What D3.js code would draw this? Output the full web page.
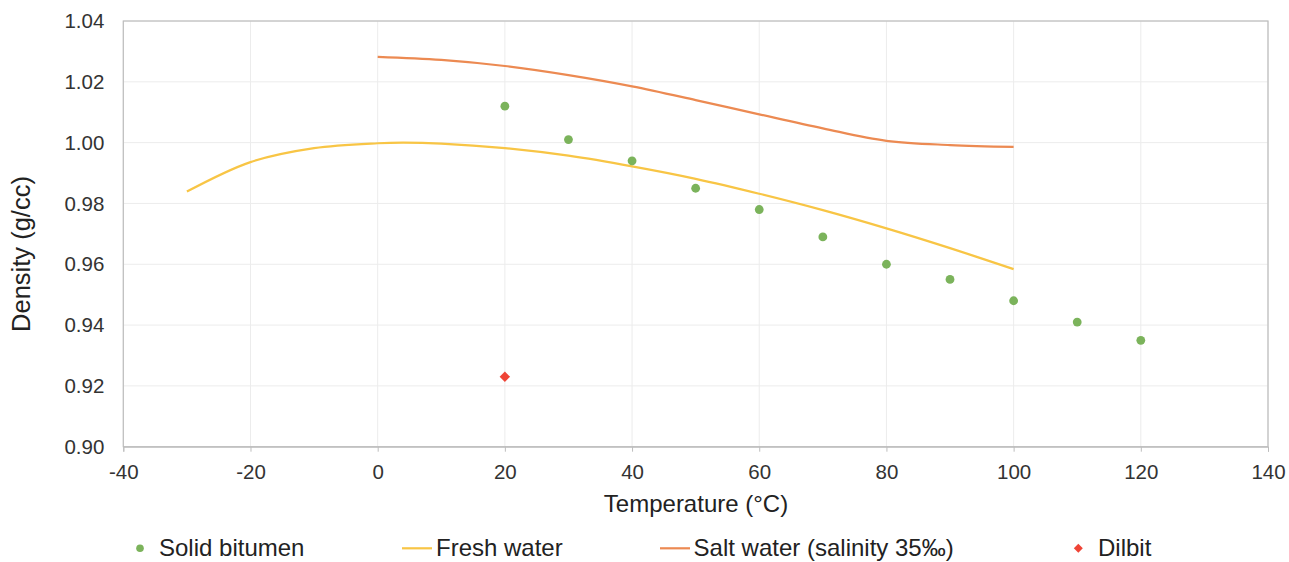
<!DOCTYPE html>
<html>
<head>
<meta charset="utf-8">
<script src="https://cdn.jsdelivr.net/npm/d3@7"></script>
<style>
  html, body { margin: 0; padding: 0; background: #fff; }
  svg { display: block; font-family: "Liberation Sans", Arial, sans-serif; }
</style>
</head>
<body>
<svg id="chart" width="1289" height="562"></svg>
<script>
// ---- data ----
const bitumenT = [20, 30, 40, 50, 60, 70, 80, 90, 100, 110, 120];
const bitumenD = [1.012, 1.001, 0.994, 0.985, 0.978, 0.969, 0.960, 0.955, 0.948, 0.941, 0.935];

const freshT = [-30, -20, -10, 0, 4, 10, 20, 30, 40, 50, 60, 70, 80, 90, 100];
const freshD = [0.9839, 0.9936, 0.9982, 0.9998, 1.0000, 0.9997, 0.9982, 0.9957, 0.9922, 0.9881, 0.9832, 0.9778, 0.9718, 0.9653, 0.9584];

const saltT = [0, 10, 20, 30, 40, 50, 60, 70, 80, 90, 100];
const saltD = [1.0282, 1.0272, 1.0252, 1.0222, 1.0185, 1.0140, 1.0093, 1.0047, 1.0006, 0.9992, 0.9986];

const dilbitT = [20];
const dilbitD = [0.923];

const xTicks = [-40, -20, 0, 20, 40, 60, 80, 100, 120, 140];
const yTicks = [0.90, 0.92, 0.94, 0.96, 0.98, 1.00, 1.02, 1.04];

const seriesNames = ["Solid bitumen", "Fresh water", "Salt water (salinity 35\u2030)", "Dilbit"];
const colors = { bitumen: "#7bb35b", fresh: "#f8c545", salt: "#ec8a52", dilbit: "#ef4436" };

// ---- layout ----
const svg = d3.select("#chart");
const pLeft = 123.3, pRight = 1268, pTop = 21, pBottom = 446.7;

const x = d3.scaleLinear().domain([-40, 140]).range([pLeft, pRight]);
const y = d3.scaleLinear().domain([0.90, 1.04]).range([pBottom, pTop]);

// gridlines
svg.append("g").selectAll("line").data(xTicks).join("line")
  .attr("x1", d => x(d)).attr("x2", d => x(d))
  .attr("y1", pTop).attr("y2", pBottom)
  .attr("stroke", "#ececec").attr("stroke-width", 1);
svg.append("g").selectAll("line").data(yTicks).join("line")
  .attr("x1", pLeft).attr("x2", pRight)
  .attr("y1", d => y(d)).attr("y2", d => y(d))
  .attr("stroke", "#ececec").attr("stroke-width", 1);

// plot border
svg.append("rect").attr("x", pLeft).attr("y", pTop)
  .attr("width", pRight - pLeft).attr("height", pBottom - pTop)
  .attr("fill", "none").attr("stroke", "#bdbdbd").attr("stroke-width", 1.2);

// x axis
const xAxis = svg.append("g").attr("transform", `translate(0,${pBottom})`)
  .call(d3.axisBottom(x).tickValues(xTicks).tickSize(5).tickPadding(13).tickFormat(d => String(d)));
xAxis.select(".domain").attr("stroke", "#bdbdbd");
xAxis.selectAll(".tick line").attr("stroke", "#bdbdbd");
xAxis.selectAll(".tick text").attr("font-size", "20.5px").attr("fill", "#333")
  .attr("font-family", "'Liberation Sans', Arial, sans-serif");

// y axis
const yAxis = svg.append("g").attr("transform", `translate(${pLeft},0)`)
  .call(d3.axisLeft(y).tickValues(yTicks).tickSize(0).tickPadding(19).tickFormat(d3.format(".2f")));
yAxis.select(".domain").remove();
yAxis.selectAll(".tick text").attr("font-size", "20.5px").attr("fill", "#333")
  .attr("font-family", "'Liberation Sans', Arial, sans-serif");

// axis titles
svg.append("text").attr("x", 696).attr("y", 512).attr("text-anchor", "middle")
  .attr("font-size", "24px").attr("fill", "#222").text("Temperature (\u00b0C)");
svg.append("text").attr("transform", "translate(30,254) rotate(-90)").attr("text-anchor", "middle")
  .attr("font-size", "25.5px").attr("fill", "#222").text("Density (g/cc)");

// lines
const line = d3.line().x(d => x(d[0])).y(d => y(d[1])).curve(d3.curveCatmullRom.alpha(0.5));
svg.append("path").datum(freshT.map((t, i) => [t, freshD[i]]))
  .attr("d", line).attr("fill", "none").attr("stroke", colors.fresh).attr("stroke-width", 2.2);
svg.append("path").datum(saltT.map((t, i) => [t, saltD[i]]))
  .attr("d", line).attr("fill", "none").attr("stroke", colors.salt).attr("stroke-width", 2.2);

// bitumen points
svg.append("g").selectAll("circle").data(bitumenT.map((t, i) => [t, bitumenD[i]])).join("circle")
  .attr("cx", d => x(d[0])).attr("cy", d => y(d[1])).attr("r", 4.4).attr("fill", colors.bitumen);

// dilbit diamond
const diamond = d3.symbol().type(d3.symbolDiamond2).size(70);
svg.append("g").selectAll("path").data(dilbitT.map((t, i) => [t, dilbitD[i]])).join("path")
  .attr("transform", d => `translate(${x(d[0])},${y(d[1])})`)
  .attr("d", diamond).attr("fill", colors.dilbit);

// legend
const lg = svg.append("g");
const ly = 548.3, lb = 555.7;
lg.append("circle").attr("cx", 140).attr("cy", ly).attr("r", 3.8).attr("fill", colors.bitumen);
lg.append("text").attr("x", 159).attr("y", lb).attr("font-size", "24px").attr("fill", "#222").text(seriesNames[0]);
lg.append("line").attr("x1", 402).attr("x2", 432).attr("y1", ly).attr("y2", ly)
  .attr("stroke", colors.fresh).attr("stroke-width", 2.2);
lg.append("text").attr("x", 436).attr("y", lb).attr("font-size", "24px").attr("fill", "#222").text(seriesNames[1]);
lg.append("line").attr("x1", 660).attr("x2", 690).attr("y1", ly).attr("y2", ly)
  .attr("stroke", colors.salt).attr("stroke-width", 2.2);
lg.append("text").attr("x", 693.6).attr("y", lb).attr("font-size", "24px").attr("fill", "#222").text(seriesNames[2]);
lg.append("path").attr("transform", `translate(1078.3,${ly})`)
  .attr("d", d3.symbol().type(d3.symbolDiamond2).size(52)).attr("fill", colors.dilbit);
lg.append("text").attr("x", 1098).attr("y", lb).attr("font-size", "24px").attr("fill", "#222").text(seriesNames[3]);
</script>
</body>
</html>
